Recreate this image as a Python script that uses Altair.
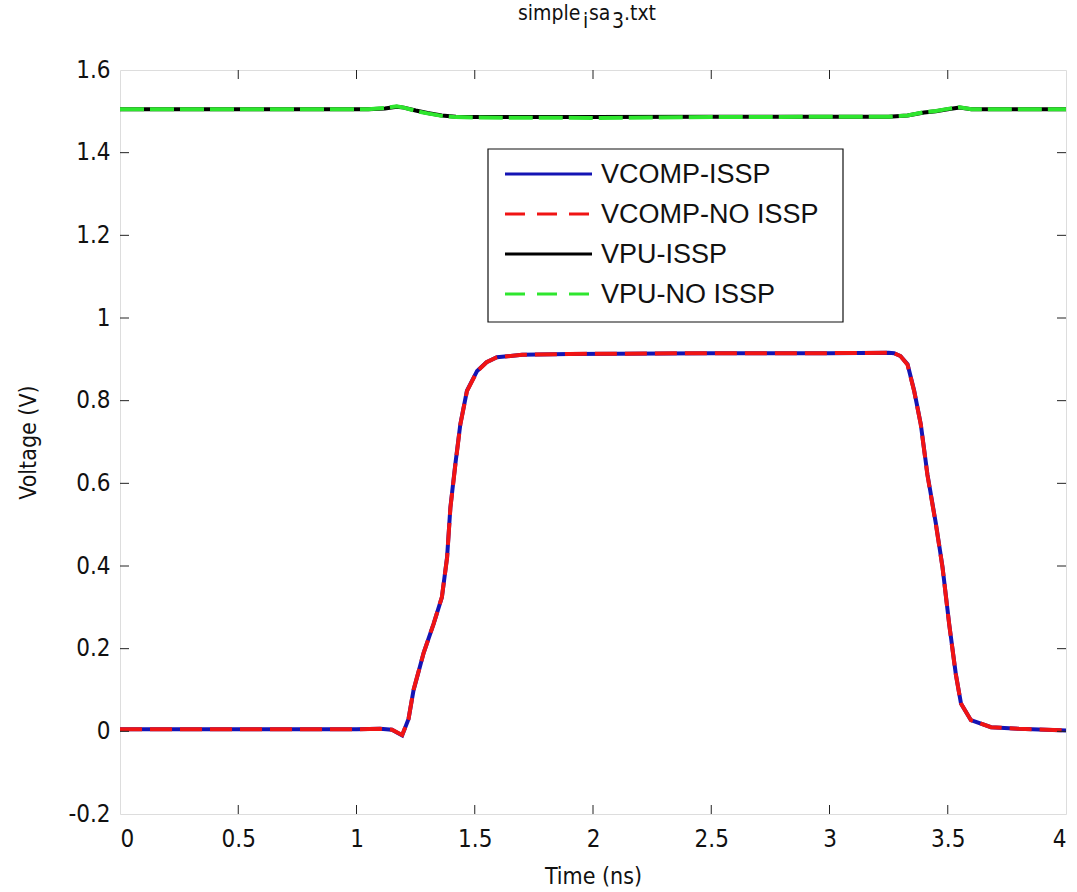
import altair as alt
import pandas as pd

# ---------------- data ----------------
series_names = ["VCOMP-ISSP", "VCOMP-NO ISSP", "VPU-ISSP", "VPU-NO ISSP"]
series_colors = ["#1414b4", "#f01414", "#000000", "#2ee62e"]

t_comp = [0.0, 0.5, 1.0, 1.1, 1.15, 1.193, 1.22, 1.241, 1.284, 1.326, 1.361,
          1.383, 1.397, 1.418, 1.439, 1.467, 1.51, 1.55, 1.594, 1.7, 1.9,
          2.5, 3.0, 3.25, 3.273, 3.3, 3.33, 3.358, 3.386, 3.414, 3.45,
          3.478, 3.506, 3.534, 3.556, 3.598, 3.683, 3.8, 4.0]
v_comp_issp = [0.005, 0.005, 0.005, 0.006, 0.004, -0.01, 0.03, 0.099, 0.19,
               0.26, 0.324, 0.421, 0.542, 0.647, 0.743, 0.824, 0.872, 0.893,
               0.905, 0.911, 0.913, 0.915, 0.915, 0.916, 0.915, 0.908, 0.888,
               0.824, 0.743, 0.622, 0.502, 0.397, 0.26, 0.139, 0.067, 0.027,
               0.010, 0.006, 0.002]
v_comp_noissp = [0.005, 0.005, 0.005, 0.006, 0.004, -0.009, 0.03, 0.1, 0.19,
                 0.26, 0.325, 0.42, 0.54, 0.645, 0.742, 0.823, 0.871, 0.893,
                 0.905, 0.911, 0.913, 0.915, 0.915, 0.916, 0.915, 0.908,
                 0.887, 0.823, 0.742, 0.62, 0.5, 0.396, 0.259, 0.138, 0.067,
                 0.027, 0.010, 0.006, 0.002]

t_vpu = [0.0, 1.05, 1.12, 1.17, 1.2, 1.25, 1.3, 1.36, 1.42, 1.5, 2.0, 2.5,
         3.0, 3.25, 3.33, 3.4, 3.45, 3.5, 3.55, 3.6, 3.7, 4.0]
v_vpu_issp = [1.505, 1.505, 1.507, 1.511, 1.509, 1.502, 1.496, 1.49, 1.487,
              1.486, 1.486, 1.487, 1.487, 1.487, 1.49, 1.497, 1.5, 1.505,
              1.509, 1.505, 1.505, 1.505]
v_vpu_noissp = [1.505, 1.505, 1.508, 1.512, 1.509, 1.501, 1.495, 1.489,
                1.486, 1.485, 1.484, 1.486, 1.487, 1.487, 1.49, 1.498, 1.501,
                1.506, 1.51, 1.505, 1.505, 1.505]

x_ticks = [0, 0.5, 1, 1.5, 2, 2.5, 3, 3.5, 4]
y_ticks = [-0.2, 0, 0.2, 0.4, 0.6, 0.8, 1, 1.2, 1.4, 1.6]

# title "simple_isa_3.txt" as rendered by MATLAB's TeX interpreter
title_parts = ["simple", "i", "sa", "3", ".txt"]
title_sub = [False, True, False, True, False]

# ---------------- layout / style ----------------
W, H = 946, 744
LABEL_FONT = "Liberation Sans Narrow, DejaVu Sans Condensed, Liberation Sans"
TEXT_FONT = "Liberation Sans, Arial, sans-serif"
TICK = 9

xs = alt.Scale(domain=[0, 4], nice=False, zero=False)
ys = alt.Scale(domain=[-0.2, 1.6], nice=False, zero=False)

x_axis = alt.Axis(values=x_ticks, labelExpr="'' + datum.value", title="Time (ns)")
y_axis = alt.Axis(values=y_ticks, labelExpr="'' + datum.value", title="Voltage (V)")

X = alt.X("t:Q", scale=xs, axis=x_axis)
Y = alt.Y("v:Q", scale=ys, axis=y_axis)


def curve(t, v, color, dash):
    d = pd.DataFrame({"t": t, "v": v})
    kw = dict(color=color, strokeWidth=4, clip=True)
    if dash:
        kw["strokeDash"] = dash
    return alt.Chart(d).mark_line(**kw).encode(x=X, y=Y, order="t:Q")


layers = [
    curve(t_comp, v_comp_issp, series_colors[0], None),
    curve(t_comp, v_comp_noissp, series_colors[1], [22, 8]),
    curve(t_vpu, v_vpu_issp, series_colors[2], None),
    curve(t_vpu, v_vpu_noissp, series_colors[3], [24, 6]),
]

# inward ticks (MATLAB box style)
xt = pd.DataFrame({"t": x_ticks[1:-1]})
yt = pd.DataFrame({"v": y_ticks[1:-1]})
tick_color = "#222222"
layers += [
    alt.Chart(xt).mark_rule(color=tick_color, strokeWidth=1).encode(
        x=X, y=alt.value(H), y2=alt.value(H - TICK)),
    alt.Chart(xt).mark_rule(color=tick_color, strokeWidth=1).encode(
        x=X, y=alt.value(0), y2=alt.value(TICK)),
    alt.Chart(yt).mark_rule(color=tick_color, strokeWidth=1).encode(
        y=Y, x=alt.value(0), x2=alt.value(TICK)),
    alt.Chart(yt).mark_rule(color=tick_color, strokeWidth=1).encode(
        y=Y, x=alt.value(W), x2=alt.value(W - TICK)),
]

one = pd.DataFrame({"k": [0]})

# title pieces (normal text + subscripts)
title_x = [398, 463, 469, 492, 504]
for part, sub, tx in zip(title_parts, title_sub, title_x):
    layers.append(alt.Chart(one).mark_text(
        text=part, align="left", baseline="alphabetic", font=LABEL_FONT,
        fontSize=21, color="#111111").encode(
        x=alt.value(tx), y=alt.value(-42 if sub else -50)))

# legend box
LX0, LX1, LY0, LY1 = 368, 723, 79, 252
layers.append(
    alt.Chart(one).mark_rect(fill="white", stroke="#111111", strokeWidth=1.2).encode(
        x=alt.value(LX0), x2=alt.value(LX1), y=alt.value(LY0), y2=alt.value(LY1)))
legend_dash = [None, [20, 12], None, [20, 12]]
row_y = [104, 144, 184, 224]
for name, col, dash, ry in zip(series_names, series_colors, legend_dash, row_y):
    kw = dict(color=col, strokeWidth=3)
    if dash:
        kw["strokeDash"] = dash
    layers.append(alt.Chart(one).mark_rule(**kw).encode(
        x=alt.value(385), x2=alt.value(472), y=alt.value(ry)))
    layers.append(alt.Chart(one).mark_text(
        text=name, align="left", baseline="middle", font=TEXT_FONT,
        fontSize=27, color="#111111").encode(x=alt.value(481), y=alt.value(ry + 1)))

chart = alt.layer(*layers).properties(
    width=W, height=H,
    autosize=alt.AutoSizeParams(type="none"),
    padding={"left": 120, "top": 70, "right": 11, "bottom": 78},
).configure_view(
    stroke="#111111", strokeWidth=1.2, fill="white"
).configure(background="white").configure_axis(
    domain=False, ticks=False, grid=False,
    labelFont=LABEL_FONT, labelFontSize=24, labelColor="#111111",
    titleFont=LABEL_FONT, titleFontSize=23, titleColor="#111111",
    titleFontWeight="normal",
).configure_axisX(
    labelPadding=13, titlePadding=14,
).configure_axisY(
    labelPadding=10, titlePadding=27,
)

chart.save("out.html", embed_options={"renderer": "svg", "actions": False})
